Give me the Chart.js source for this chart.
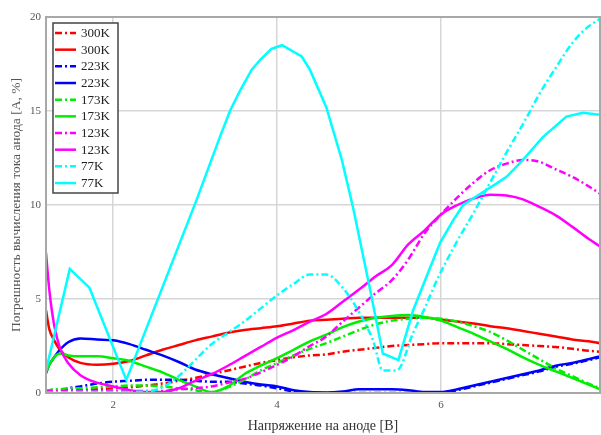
<!DOCTYPE html>
<html><head><meta charset="utf-8">
<script src="https://cdn.jsdelivr.net/npm/chart.js@4.4.1/dist/chart.umd.min.js"></script>
<style>html,body{margin:0;padding:0;background:#fff;}</style>
</head><body>
<canvas id="c" width="601" height="435" style="width:601px;height:435px;display:block"></canvas>
<script>
// ---- data ----
const xGrid = [1.18,1.22,1.28,1.35,1.45,1.6,1.8,2.0,2.2,2.4,2.6,2.8,3.0,3.2,3.4,3.6,3.8,4.0,4.2,4.4,4.6,4.8,5.0,5.2,5.4,5.6,5.8,6.0,6.2,6.4,6.6,6.8,7.0,7.2,7.4,7.6,7.8,7.94];
const y300dash  = [0.1,0.1,0.12,0.12,0.15,0.15,0.2,0.25,0.3,0.4,0.5,0.65,0.8,1.0,1.2,1.4,1.6,1.75,1.9,2.0,2.05,2.2,2.3,2.4,2.5,2.55,2.6,2.65,2.65,2.65,2.65,2.6,2.55,2.5,2.45,2.35,2.25,2.2];
const y300solid = [4.4,3.4,2.8,2.3,1.9,1.6,1.5,1.55,1.7,2.0,2.3,2.55,2.8,3.0,3.2,3.35,3.45,3.55,3.7,3.85,3.9,3.95,4.0,4.0,4.0,4.0,4.0,3.9,3.8,3.7,3.55,3.45,3.3,3.15,3.0,2.85,2.75,2.65];
const y223dash  = [0.05,0.05,0.08,0.1,0.25,0.35,0.5,0.6,0.65,0.7,0.7,0.7,0.65,0.6,0.6,0.5,0.4,0.25,0.08,0.02,0,0,0,0,0,0,0,0,0.15,0.35,0.55,0.75,0.95,1.15,1.4,1.55,1.75,1.9];
const y223solid = [1.05,1.5,1.9,2.3,2.7,2.9,2.85,2.8,2.6,2.3,2.0,1.65,1.25,1.0,0.8,0.6,0.45,0.35,0.15,0.05,0.03,0.08,0.2,0.2,0.2,0.15,0.05,0.05,0.2,0.4,0.6,0.8,1.0,1.2,1.45,1.6,1.8,1.95];
const y173dash  = [0.1,0.15,0.2,0.2,0.25,0.25,0.3,0.35,0.4,0.4,0.35,0.25,0.15,0.02,0.3,0.7,1.2,1.6,2.0,2.35,2.65,3.0,3.35,3.65,3.85,3.95,4.0,3.95,3.8,3.55,3.25,2.8,2.3,1.8,1.3,0.9,0.5,0.25];
const y173solid = [1.1,1.5,1.9,2.1,2.0,1.95,1.95,1.85,1.7,1.4,1.1,0.7,0.35,0.05,0.35,1.0,1.45,1.85,2.3,2.75,3.1,3.5,3.8,4.0,4.1,4.15,4.05,3.85,3.5,3.15,2.75,2.35,1.9,1.5,1.15,0.8,0.45,0.2];
const y123dash  = [0.1,0.1,0.1,0.1,0.1,0.1,0.1,0.1,0.1,0.1,0.1,0.2,0.25,0.35,0.55,0.75,1.1,1.5,1.95,2.5,3.0,3.8,4.55,5.3,6.0,7.1,8.5,9.5,10.4,11.2,11.85,12.2,12.4,12.3,11.9,11.5,11.0,10.6];
const y123solid = [7.45,5.5,3.6,2.4,1.6,0.95,0.55,0.35,0.15,0.05,0.05,0.25,0.65,1.0,1.45,1.95,2.45,2.95,3.35,3.8,4.2,4.85,5.5,6.2,6.8,7.9,8.65,9.5,10.0,10.35,10.55,10.5,10.3,9.9,9.45,8.85,8.2,7.8];
const x77dash  = [1.18,1.6,2.0,2.4,2.6,2.8,3.0,3.2,3.4,3.6,3.8,4.0,4.2,4.4,4.6,4.8,5.0,5.17,5.29,5.46,5.66,5.8,5.95,6.2,6.4,6.6,6.8,7.0,7.2,7.4,7.6,7.8,7.94];
const y77dash  = [0.02,0.05,0.05,0.08,0.3,0.9,1.75,2.6,3.2,3.8,4.5,5.2,5.8,6.3,6.3,5.6,4.3,2.8,1.2,1.2,3.2,4.5,6.0,8.1,9.6,11.2,12.8,14.3,15.9,17.3,18.6,19.5,19.9];
const x77solid = [1.18,1.47,1.71,2.16,3.02,3.3,3.43,3.55,3.69,3.8,3.93,4.06,4.3,4.4,4.6,4.79,4.93,5.13,5.29,5.48,5.66,5.87,5.99,6.15,6.27,6.48,6.68,6.8,7.0,7.24,7.53,7.73,7.94];
const y77solid = [1.2,6.6,5.6,0.7,10.3,13.6,15.05,16.1,17.2,17.75,18.3,18.5,17.9,17.2,15.2,12.4,9.8,5.6,2.1,1.75,4.4,6.7,8.0,9.2,10.0,10.6,11.15,11.5,12.4,13.6,14.7,14.9,14.8];

const seriesLabels = ['300K','300K','223K','223K','173K','173K','123K','123K','77K','77K'];
const seriesColors = ['#ff0000','#ff0000','#0000ff','#0000ff','#00ee00','#00ee00','#ff00ff','#ff00ff','#00ffff','#00ffff'];
const seriesDashed = [true,false,true,false,true,false,true,false,true,false];
const seriesX = [xGrid,xGrid,xGrid,xGrid,xGrid,xGrid,xGrid,xGrid,x77dash,x77solid];
const seriesY = [y300dash,y300solid,y223dash,y223solid,y173dash,y173solid,y123dash,y123solid,y77dash,y77solid];
const xTicks = [2,4,6];
const yTicks = [0,5,10,15,20];
const xTitle = 'Напряжение на аноде [В]';
const yTitle = 'Погрешность вычисления тока анода [A, %]';

const DASH = [7,3,2,3];
const datasets = seriesLabels.map((lab,i)=>({
  label: lab,
  data: seriesX[i].map((x,j)=>({x:x,y:seriesY[i][j]})),
  borderColor: seriesColors[i],
  backgroundColor: seriesColors[i],
  borderWidth: 2.5,
  borderDash: seriesDashed[i] ? DASH : [],
  pointRadius: 0,
  fill: false,
  tension: i===9 ? 0 : 0.4,
  cubicInterpolationMode: i===9 ? 'default' : 'monotone',
  order: 20 - i
}));

const framePlugin = {
  id:'frame',
  afterDraw(chart){
    const {ctx, chartArea:a} = chart;
    ctx.save();
    ctx.strokeStyle = '#a8a8a8'; ctx.lineWidth = 2;
    ctx.strokeRect(a.left, a.top, a.right - a.left, a.bottom - a.top);
    ctx.restore();
  }
};
const legendPlugin = {
  id:'boxLegend',
  afterDraw(chart){
    const ctx = chart.ctx;
    ctx.save();
    ctx.fillStyle = '#fff';
    ctx.fillRect(53,23,65,170);
    ctx.strokeStyle = '#444'; ctx.lineWidth = 1.5;
    ctx.strokeRect(53,23,65,170);
    ctx.font = '13px "Liberation Serif"';
    ctx.textBaseline = 'middle';
    seriesLabels.forEach((lab,i)=>{
      const y = 33 + i*16.67;
      ctx.strokeStyle = seriesColors[i]; ctx.lineWidth = 2.5;
      ctx.setLineDash(seriesDashed[i] ? DASH : []);
      ctx.beginPath(); ctx.moveTo(55,y); ctx.lineTo(76,y); ctx.stroke();
      ctx.setLineDash([]);
      ctx.fillStyle = '#222';
      ctx.fillText(lab, 81, y+0.5);
    });
    ctx.restore();
  }
};

new Chart(document.getElementById('c'), {
  type:'line',
  data:{datasets},
  plugins:[framePlugin, legendPlugin],
  options:{
    responsive:false, animation:false, devicePixelRatio:1,
    layout:{padding:{top:17,right:1,left:0,bottom:0}},
    plugins:{legend:{display:false}, tooltip:{enabled:false}},
    scales:{
      x:{type:'linear', min:1.18, max:7.94,
        afterBuildTicks(s){ s.ticks = xTicks.map(v=>({value:v})); },
        afterFit(s){ s.height = 42; },
        grid:{color:'#d6d6d6', lineWidth:1.5, drawTicks:false},
        border:{display:false},
        ticks:{font:{family:'Liberation Serif', size:11}, color:'#555', padding:6, maxRotation:0},
        title:{display:true, text:xTitle, font:{family:'Liberation Serif', size:14}, color:'#333', padding:{top:0,bottom:0}}
      },
      y:{min:0, max:20,
        afterBuildTicks(s){ s.ticks = yTicks.map(v=>({value:v})); },
        afterFit(s){ s.width = 46; },
        grid:{color:'#d6d6d6', lineWidth:1.5, drawTicks:false},
        border:{display:false},
        ticks:{font:{family:'Liberation Serif', size:11}, color:'#555', padding:5},
        title:{display:true, text:yTitle, font:{family:'Liberation Serif', size:13.5}, color:'#555', padding:{top:8,bottom:0}}
      }
    }
  }
});
</script>
</body></html>
